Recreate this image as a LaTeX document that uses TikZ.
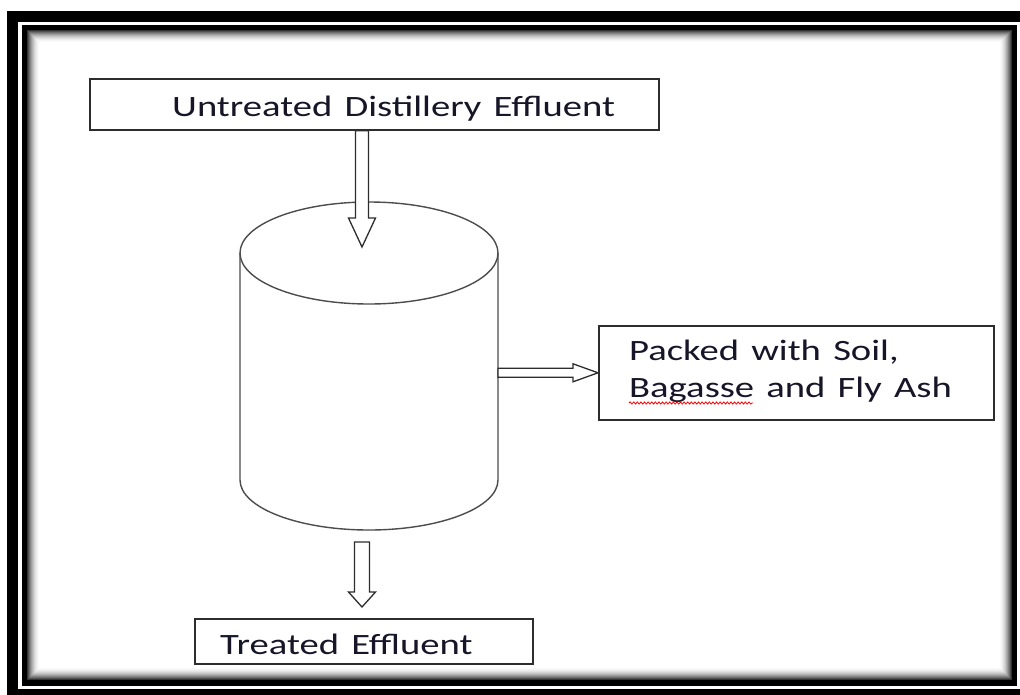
\documentclass[tikz,border=0pt]{standalone}
\usepackage{fontspec}
\setmainfont{Carlito}[FakeStretch=1.31,WordSpace=1.4]
\usetikzlibrary{calc,decorations.pathmorphing}
\definecolor{txt}{RGB}{22,22,40}
\definecolor{ln}{RGB}{45,45,45}
\newcommand\blockarrow[5]{%
  \path ($(#2)!#5pt!(#1)$) coordinate (hb);
  \draw[barrow] ($(#1)!#3pt!90:(#2)$) -- ($(hb)!#3pt!-90:(#1)$) -- ($(hb)!#4pt!-90:(#1)$) -- (#2)
     -- ($(hb)!#4pt!90:(#1)$) -- ($(hb)!#3pt!90:(#1)$) -- ($(#1)!#3pt!-90:(#2)$) -- cycle;}
\tikzset{
  box/.style={draw=ln, line width=1.6pt, fill=white, inner sep=0pt, anchor=north west},
  lbl/.style={inner sep=0pt, anchor=base west, text=txt, font=\fontsize{29.5}{36}\selectfont},
  cylline/.style={draw=ln!85, line width=1.4pt},
  barrow/.style={draw=ln, line width=1.3pt, fill=white, line join=miter},
}
\begin{document}
\begin{tikzpicture}[x=1pt,y=-1pt]
\useasboundingbox (0,0) rectangle (1020,694);
\clip (0,0) rectangle (1020,694);
% frame
\fill[white] (0,0) rectangle (1020,694);
\fill[black] (7,11) rectangle (1040,720);
\fill[white] (18,22) rectangle (1021,689);
\fill[black] (22,25) rectangle (1017,686);
\foreach \i in {0,...,12} {
  \pgfmathsetmacro\p{80*(1-\i/13)^2}
  \fill[black!\p] (27+\i,30+\i) rectangle (1012-\i,680-\i);
}
\fill[white] (40,43) rectangle (999,667);
% boxes
\node[box, minimum width=569pt, minimum height=51pt] (top) at (89,78) {};
\node[lbl] (toptxt) at (172,116) {Untreated Distillery Effluent};
\node[box, minimum width=395pt, minimum height=94pt] (pk) at (598,325) {};
\node[lbl] (pk1) at (629,360) {Packed with Soil,};
\node[lbl] (pk2) at (629,397) {Bagasse and Fly Ash};
\draw[red, line width=0.8pt, decorate, decoration={snake, amplitude=1.1pt, segment length=3.6pt}]
  ($(pk2.base west)+(0,6)$) -- ($(pk2.base west)+(124,6)$);
\node[box, minimum width=338pt, minimum height=45pt] (bot) at (194,618) {};
\node[lbl] (bottxt) at (220,654) {Treated Effluent};
% cylinder
\coordinate (cyltop) at (369,253);
\coordinate (cylbot) at (369,480);
\draw[cylline] (cyltop) ellipse [x radius=129, y radius=51];
\draw[cylline] ($(cyltop)+(-129,0)$) -- ($(cylbot)+(-129,0)$)
  arc[start angle=180, end angle=360, x radius=129, y radius=-50]
  -- ($(cyltop)+(129,0)$);
\coordinate (cylE) at ($(cylbot)+(129,0)$);
% arrows
\coordinate (in1) at (362,247);
\blockarrow{top.south -| in1}{in1}{6.5}{13.5}{29}
\coordinate (out1) at (362,542);
\coordinate (out2) at (362,607);
\blockarrow{out1}{out2}{7.5}{13.5}{15}
\blockarrow{pk.west -| cylE}{pk.west}{4.5}{9}{25}
\end{tikzpicture}
\end{document}
